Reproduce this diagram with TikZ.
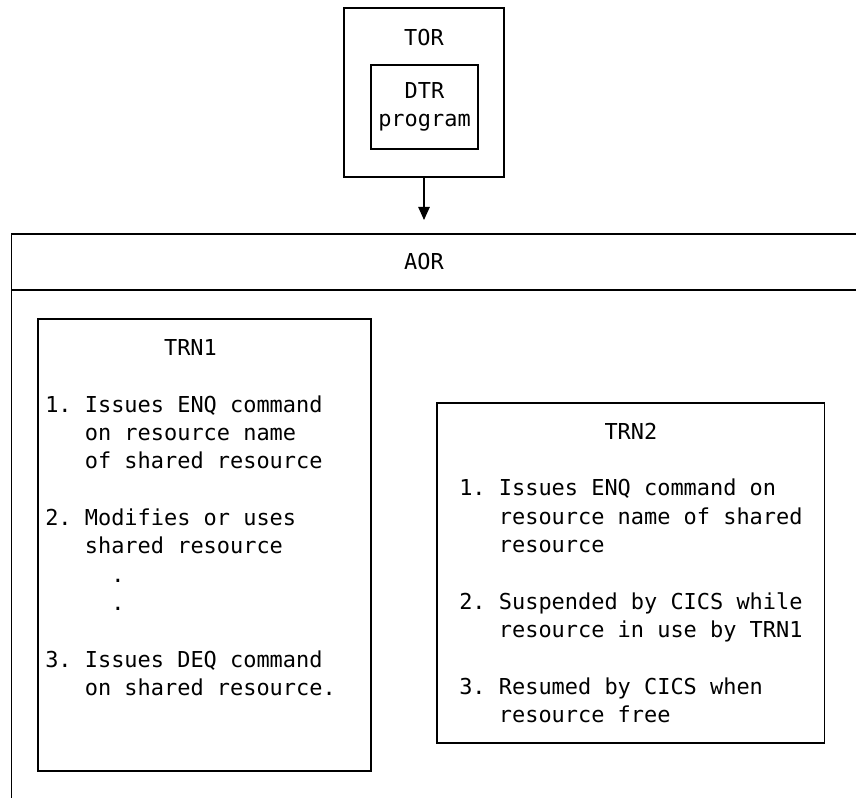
\documentclass[tikz,border=0pt]{standalone}
\usepackage{fontspec}
\setmainfont{DejaVu Sans Mono}
\usepackage{tikz}
\usetikzlibrary{arrows.meta}
\newlength{\cw}
\setlength{\cw}{9.39pt}
\newcommand{\col}[1]{\hspace*{#1\cw}}
\tikzset{
  box/.style={draw, line width=0.8pt, inner sep=0pt},
  txt/.style={font=\fontsize{15.6}{20.16}\selectfont, inner sep=0pt},
  list/.style={txt, align=left, anchor=base west}
}

\begin{document}
\frenchspacing
\begin{tikzpicture}
\useasboundingbox (0,0) rectangle (21.4,19.925);
\clip (0,0) rectangle (21.4,19.925);
\node[box, minimum width=4cm, minimum height=4.225cm] (tor) at (10.6,17.6125) {};
\node[txt] (torlabel) at (10.6,18.975) {TOR};
\node[box, txt, align=center, minimum width=2.675cm, minimum height=2.1cm] (dtr) at (10.6125,17.25) {DTR\\program};
\coordinate (aortop) at (10.6,14.425);
\draw[line width=0.8pt, -{Triangle[width=0.29cm,length=0.33cm]}] (tor.south) -- (aortop);
\draw[line width=0.8pt] (21.6,14.075) -- (0.2875,14.075) -- (0.2875,-0.2);
\draw[line width=0.8pt] (0.2875,12.675) -- (21.6,12.675);
\node[txt] (aorlabel) at (10.6,13.375) {AOR};
\node[box, minimum width=8.325cm, minimum height=11.3cm] (trn1) at (5.1125,6.3) {};
\node[list] (trn1text) at (1.125,2.5375) {\col{9}TRN1\\[\baselineskip]
1. Issues ENQ command\\
\col{3}on resource name\\
\col{3}of shared resource\\[\baselineskip]
2. Modifies or uses\\
\col{3}shared resource\\
\col{5}.\\
\col{5}.\\[\baselineskip]
3. Issues DEQ command\\
\col{3}on shared resource.};
\node[box, minimum width=9.6875cm, minimum height=8.5cm] (trn2) at (15.769,5.6) {};
\node[list] (trn2text) at (11.475,1.8625) {\col{11}TRN2\\[\baselineskip]
1. Issues ENQ command on\\
\col{3}resource name of shared\\
\col{3}resource\\[\baselineskip]
2. Suspended by CICS while\\
\col{3}resource in use by TRN1\\[\baselineskip]
3. Resumed by CICS when\\
\col{3}resource free};
\end{tikzpicture}
\end{document}
